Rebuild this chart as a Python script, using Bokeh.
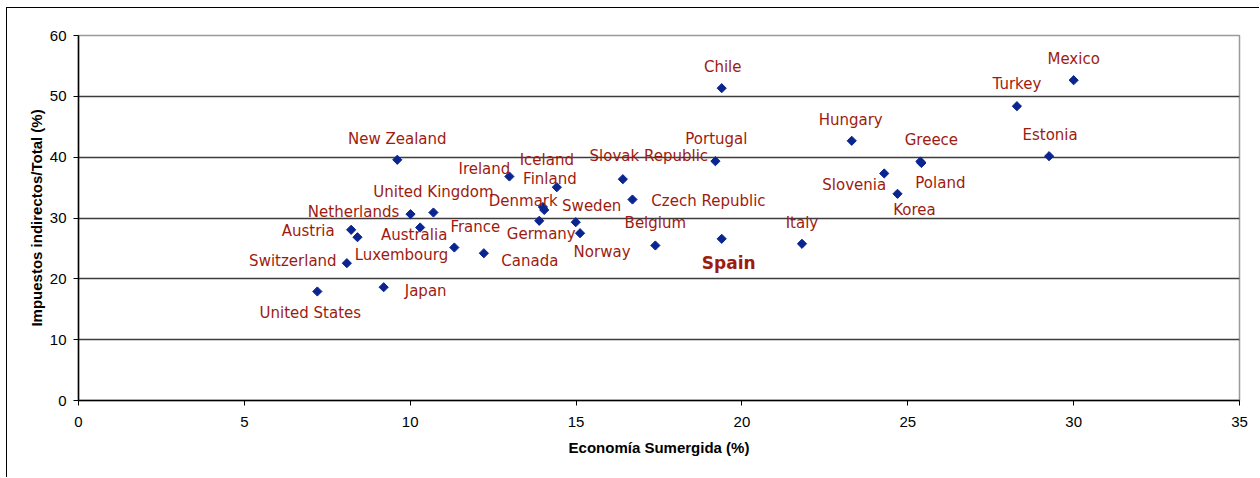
import math
from bokeh.plotting import figure
from bokeh.models import ColumnDataSource, FixedTicker, Range1d
from bokeh.core.properties import value
from bokeh.embed import file_html
from bokeh.resources import INLINE

# ---------------- data ----------------
countries = [
    "United States", "Japan", "Switzerland", "Austria", "Luxembourg",
    "Netherlands", "United Kingdom", "Australia", "New Zealand", "Ireland",
    "France", "Canada", "Iceland", "Finland", "Denmark", "Germany", "Sweden",
    "Norway", "Slovak Republic", "Czech Republic", "Belgium", "Portugal",
    "Spain", "Chile", "Italy", "Hungary", "Slovenia", "Korea", "Greece",
    "Poland", "Turkey", "Mexico", "Estonia",
]
economia_sumergida = [
    7.20, 9.20, 8.09, 8.22, 8.41,
    10.01, 10.70, 10.30, 9.61, 12.99,
    11.33, 12.22, 14.42, 14.00, 14.04, 13.89, 14.99,
    15.12, 16.41, 16.70, 17.39, 19.20,
    19.39, 19.39, 21.81, 23.31, 24.29, 24.69, 25.38,
    25.41, 28.29, 30.00, 29.26,
]
impuestos_indirectos = [
    17.92, 18.62, 22.57, 28.06, 26.84,
    30.63, 30.90, 28.44, 39.57, 36.82,
    25.15, 24.21, 35.06, 31.81, 31.32, 29.54, 29.31,
    27.50, 36.38, 33.04, 25.48, 39.34,
    26.58, 51.34, 25.76, 42.69, 37.32, 33.98, 39.29,
    39.04, 48.38, 52.65, 40.16,
]
highlight = ["Spain"]

x_ticks = [0, 5, 10, 15, 20, 25, 30, 35]
y_ticks = [0, 10, 20, 30, 40, 50, 60]

# ---------------- label placement (screen px, relative to the point) ----------------
label_offsets = {
    "United States": (-7, 22), "Japan": (42, 4), "Switzerland": (-54, -2),
    "Austria": (-43, 1), "Luxembourg": (44, 18), "Netherlands": (-57, -2),
    "United Kingdom": (0, -21), "Australia": (-6, 8), "New Zealand": (0, -21),
    "Ireland": (-25, -8), "France": (21, -21), "Canada": (46, 8),
    "Iceland": (-10, -27), "Finland": (7, -28), "Denmark": (-21, -9),
    "Germany": (2, 13), "Sweden": (16, -16), "Norway": (22, 19),
    "Slovak Republic": (26, -23), "Czech Republic": (76, 1), "Belgium": (0, -22),
    "Portugal": (1, -22), "Spain": (7, 24), "Chile": (1, -21), "Italy": (0, -21),
    "Hungary": (-1, -21), "Slovenia": (-30, 12), "Korea": (17, 16),
    "Greece": (11, -21), "Poland": (19, 20), "Turkey": (0, -22),
    "Mexico": (0, -21), "Estonia": (1, -21),
}

LABEL_COLOR = "#9E1B0F"
MARKER_COLOR = "#0A2490"

pts = ColumnDataSource(dict(x=economia_sumergida, y=impuestos_indirectos, name=countries))

def label_source(names):
    idx = [countries.index(n) for n in names]
    return ColumnDataSource(dict(
        x=[economia_sumergida[i] for i in idx],
        y=[impuestos_indirectos[i] for i in idx],
        name=names,
        dx=[label_offsets[n][0] for n in names],
        dy=[label_offsets[n][1] for n in names],
    ))

normal_names = [c for c in countries if c not in highlight]

p = figure(
    width=1253, height=470,
    x_range=Range1d(x_ticks[0], x_ticks[-1]), y_range=Range1d(y_ticks[0], y_ticks[-1]),
    output_backend="svg", toolbar_location=None,
    min_border_left=71, min_border_right=21, min_border_top=27, min_border_bottom=78,
)
p.styles = {"margin-left": "6px", "margin-top": "7px",
            "border-left": "1px solid #000000", "border-top": "1px solid #000000"}

p.background_fill_color = "white"
p.border_fill_color = "white"
p.outline_line_color = "#9a9a9a"
p.outline_line_width = 1.5

p.xgrid.visible = False
p.ygrid.ticker = FixedTicker(ticks=y_ticks[1:-1])
p.ygrid.grid_line_color = "#3c3c3c"
p.ygrid.grid_line_width = 1.5

p.xaxis.ticker = FixedTicker(ticks=x_ticks)
p.yaxis.ticker = FixedTicker(ticks=y_ticks)
for ax in (p.xaxis, p.yaxis):
    ax.axis_line_color = "black"
    ax.axis_line_width = 1.5
    ax.major_tick_line_color = "black"
    ax.major_tick_out = 5
    ax.major_tick_in = 0
    ax.minor_tick_line_color = None
    ax.major_label_text_font = "Liberation Sans"
    ax.major_label_text_font_size = "15px"
    ax.major_label_text_color = "black"
    ax.axis_label_text_font = "Liberation Sans"
    ax.axis_label_text_font_size = "15px"
    ax.axis_label_text_font_style = "bold"
    ax.axis_label_text_color = "black"

p.xaxis.axis_label = "Economía Sumergida (%)"
p.yaxis.axis_label = "Impuestos indirectos/Total (%)"
p.xaxis.major_label_standoff = 11
p.xaxis.axis_label_standoff = 9
p.yaxis.major_label_standoff = 7
p.yaxis.axis_label_standoff = 2

p.scatter(x="x", y="y", source=pts, marker="square", angle=math.pi / 4,
          size=6.5, fill_color=MARKER_COLOR, line_color=MARKER_COLOR)

p.text(x="x", y="y", text="name", x_offset="dx", y_offset="dy",
       source=label_source(normal_names),
       text_font=value("DejaVu Sans"), text_font_size="15px",
       text_color=LABEL_COLOR, text_align="center", text_baseline="middle")
p.text(x="x", y="y", text="name", x_offset="dx", y_offset="dy",
       source=label_source(highlight),
       text_font=value("DejaVu Sans"), text_font_size="17px", text_font_style="bold",
       text_color=LABEL_COLOR, text_align="center", text_baseline="middle")

open("out.html", "w").write(file_html(p, INLINE))
